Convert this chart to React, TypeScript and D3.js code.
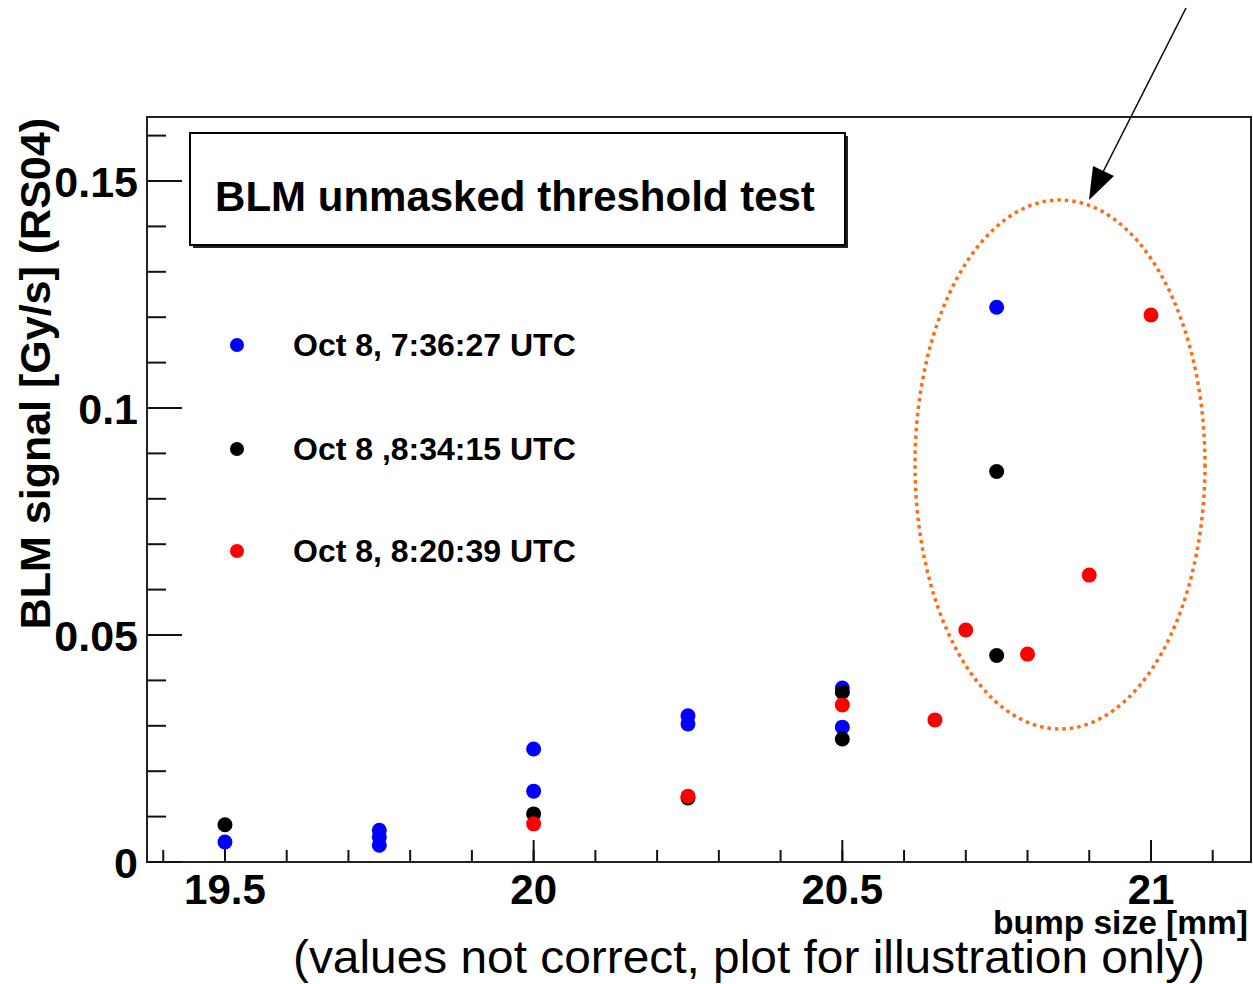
import React from "react";
import * as d3 from "d3";

const W = 1253;
const H = 984;

const seriesNames = ["Oct 8, 7:36:27 UTC", "Oct 8 ,8:34:15 UTC", "Oct 8, 8:20:39 UTC"];
const seriesColors = ["#0000ff", "#000000", "#ff0000"];

const blueX = [19.5, 19.75, 19.75, 19.75, 20, 20, 20.25, 20.25, 20.5, 20.5, 20.75];
const blueY = [0.0044, 0.0070, 0.0055, 0.0037, 0.0249, 0.0156, 0.0322, 0.0304, 0.0383, 0.0297, 0.1222];
const blackX = [19.5, 20, 20.25, 20.5, 20.5, 20.75, 20.75];
const blackY = [0.0082, 0.0106, 0.0141, 0.0374, 0.0271, 0.0860, 0.0455];
const redX = [20, 20.25, 20.5, 20.65, 20.7, 20.8, 20.9, 21];
const redY = [0.0084, 0.0145, 0.0346, 0.0313, 0.0511, 0.0458, 0.0632, 0.1205];

const xMajor = [19.5, 20, 20.5, 21];
const xMinor = d3.range(194, 212).map((v) => v / 10);
const yMajor = [0, 0.05, 0.1, 0.15];
const yMinor = d3.range(0, 17).map((v) => v / 100);
const yLabels = ["0", "0.05", "0.1", "0.15"];
const xLabels = ["19.5", "20", "20.5", "21"];

const title = "BLM unmasked threshold test";
const xTitle = "bump size [mm]";
const yTitle = "BLM signal [Gy/s] (RS04)";
const caption = "(values not correct, plot for illustration only)";

const FONT = "'Liberation Sans', Arial, Helvetica, sans-serif";

export default function App() {
  const plotL = 147, plotR = 1251, plotT = 117, plotB = 862;
  const x = d3.scaleLinear().domain([19.3737, 21.162]).range([plotL, plotR]);
  const y = d3.scaleLinear().domain([0, 0.16410]).range([plotB, plotT]);

  const series = [
    { xs: blueX, ys: blueY },
    { xs: blackX, ys: blackY },
    { xs: redX, ys: redY },
  ];

  const r = 7.5;

  return (
    <svg width={W} height={H} style={{ position: "absolute", left: 0, top: 0, background: "#fff" }} fontFamily={FONT}>
      <rect x={0} y={0} width={W} height={H} fill="#fff" />
      {/* frame */}
      <rect x={plotL} y={plotT} width={plotR - plotL} height={plotB - plotT} fill="none" stroke="#222" strokeWidth={2} />

      {/* y ticks */}
      {yMinor.map((v, i) => (
        <line key={"ym" + i} x1={plotL} x2={plotL + 19} y1={y(v)} y2={y(v)} stroke="#111" strokeWidth={2} />
      ))}
      {yMajor.map((v, i) => (
        <line key={"yM" + i} x1={plotL} x2={plotL + 35} y1={y(v)} y2={y(v)} stroke="#111" strokeWidth={2} />
      ))}
      {/* x ticks */}
      {xMinor.map((v, i) => (
        <line key={"xm" + i} x1={x(v)} x2={x(v)} y1={plotB} y2={plotB - 12} stroke="#111" strokeWidth={2} />
      ))}
      {xMajor.map((v, i) => (
        <line key={"xM" + i} x1={x(v)} x2={x(v)} y1={plotB} y2={plotB - 22} stroke="#111" strokeWidth={2} />
      ))}

      {/* y labels */}
      {yMajor.map((v, i) => (
        <text key={"yl" + i} x={138} y={y(v) + 16} textAnchor="end" fontSize={43} fontWeight="bold" fill="#000">
          {yLabels[i]}
        </text>
      ))}
      {/* x labels */}
      {xMajor.map((v, i) => (
        <text key={"xl" + i} x={x(v)} y={904} textAnchor="middle" fontSize={42} fontWeight="bold" fill="#000">
          {xLabels[i]}
        </text>
      ))}

      {/* axis titles */}
      <text x={1248} y={934} textAnchor="end" fontSize={33.5} fontWeight="bold" fill="#000">
        {xTitle}
      </text>
      <text transform="translate(50,118) rotate(-90)" textAnchor="end" fontSize={43} fontWeight="bold" fill="#000">
        {yTitle}
      </text>

      {/* title box */}
      <rect x={193} y={136} width={655} height={112} fill="#222" />
      <rect x={190} y={133} width={655} height={112} fill="#fff" stroke="#000" strokeWidth={2} />
      <text x={515} y={211} textAnchor="middle" fontSize={42} fontWeight="bold" fill="#000">
        {title}
      </text>

      {/* legend */}
      {seriesNames.map((n, i) => {
        const ly = [345, 449, 551][i];
        return (
          <g key={"lg" + i}>
            <circle cx={237} cy={ly} r={7} fill={seriesColors[i]} />
            <text x={293} y={ly + 11} fontSize={32} fontWeight="bold" fill="#000">
              {n}
            </text>
          </g>
        );
      })}

      {/* points */}
      {series.map((s, si) =>
        s.xs.map((xv, j) => (
          <circle key={"p" + si + "-" + j} cx={x(xv)} cy={y(s.ys[j])} r={r} fill={seriesColors[si]} />
        ))
      )}

      {/* ellipse */}
      <ellipse cx={1060} cy={464.5} rx={145} ry={264.5} fill="none" stroke="#ff6a13" strokeWidth={3.5} strokeDasharray="3.5 4" />

      {/* arrow */}
      <line x1={1186} y1={8} x2={1103} y2={172} stroke="#000" strokeWidth={1.5} />
      <polygon points="1089,200 1093,166 1114,176" fill="#000" />

      {/* caption */}
      <text x={293} y={973} fontSize={47} fill="#000" textLength={912} lengthAdjust="spacingAndGlyphs">
        {caption}
      </text>
    </svg>
  );
}
